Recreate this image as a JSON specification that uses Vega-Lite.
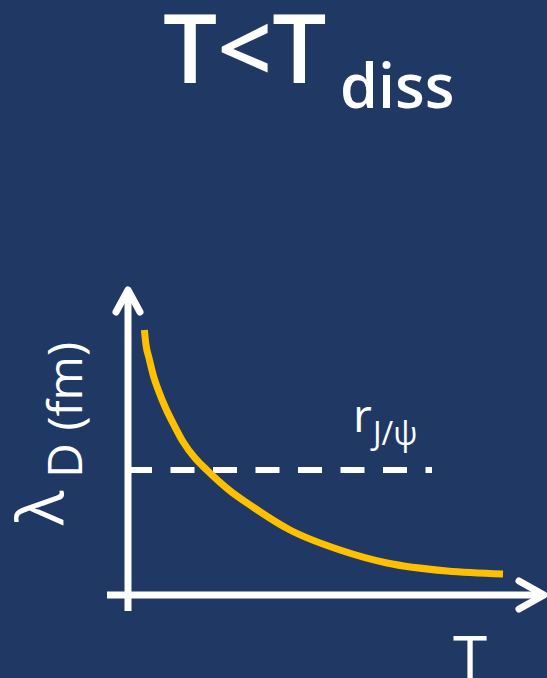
{
  "$schema": "https://vega.github.io/schema/vega-lite/v6.json",
  "width": 547,
  "height": 678,
  "autosize": {"type": "none"},
  "padding": 0,
  "background": "#203864",
  "config": {"view": {"stroke": null}},
  "datasets": {
    "curve": [
      {"T": 0.41, "L": 6.625},
      {"T": 0.45, "L": 6.25},
      {"T": 0.525, "L": 5.925},
      {"T": 0.63, "L": 5.5},
      {"T": 0.775, "L": 5.075},
      {"T": 0.94, "L": 4.675},
      {"T": 1.15, "L": 4.25},
      {"T": 1.38, "L": 3.825},
      {"T": 1.675, "L": 3.425},
      {"T": 1.97, "L": 3.125},
      {"T": 2.525, "L": 2.625},
      {"T": 3.125, "L": 2.2},
      {"T": 4.05, "L": 1.625},
      {"T": 5.3, "L": 1.125},
      {"T": 6.475, "L": 0.8},
      {"T": 7.975, "L": 0.6},
      {"T": 9.375, "L": 0.525}
    ],
    "axes": [
      {"axis": "lambda", "T": 0, "L": -0.4, "T2": 0, "L2": 7.5},
      {"axis": "T", "T": -0.525, "L": 0, "T2": 10.3, "L2": 0}
    ],
    "threshold": [
      {"T": 0, "L": 3.125, "T2": 7.6, "L2": 3.125}
    ],
    "arrows": [
      {"arrow": "lambda", "seq": 1, "T": -0.3, "L": 7.075},
      {"arrow": "lambda", "seq": 2, "T": 0, "L": 7.625},
      {"arrow": "lambda", "seq": 3, "T": 0.3, "L": 7.075},
      {"arrow": "T", "seq": 1, "T": 9.775, "L": 0.35},
      {"arrow": "T", "seq": 2, "T": 10.4, "L": 0},
      {"arrow": "T", "seq": 3, "T": 9.775, "L": -0.35}
    ],
    "labels": [
      {"name": "title", "T": 0.875, "L": 12.8, "text": "T<T"},
      {"name": "titleSub", "T": 5.3, "L": 12.175, "text": "diss"},
      {"name": "radius", "T": 5.625, "L": 4.075, "text": "r"},
      {"name": "radiusSub", "T": 6.125, "L": 3.75, "text": "J/ψ"},
      {"name": "yLambda", "T": -1.625, "L": 1.75, "text": "λ"},
      {"name": "yRest", "T": -1.15, "L": 2.925, "text": "D (fm)"},
      {"name": "xTitle", "T": 8.55, "L": -2.15, "text": "T"}
    ]
  },
  "encoding": {
    "x": {"field": "T", "type": "quantitative", "axis": null,
          "scale": {"domain": [-3.2, 10.475], "nice": false, "zero": false}},
    "y": {"field": "L", "type": "quantitative", "axis": null,
          "scale": {"domain": [-2.075, 14.875], "nice": false, "zero": false}}
  },
  "layer": [
    {
      "data": {"name": "threshold"},
      "mark": {"type": "rule", "color": "#ffffff", "strokeWidth": 6, "strokeDash": [24, 18.5]},
      "encoding": {"x2": {"field": "T2"}, "y2": {"field": "L2"}}
    },
    {
      "data": {"name": "curve"},
      "mark": {"type": "line", "color": "#ffc000", "strokeWidth": 7, "interpolate": "monotone", "strokeCap": "butt"},
      "encoding": {}
    },
    {
      "data": {"name": "axes"},
      "mark": {"type": "rule", "color": "#ffffff", "strokeWidth": 7, "strokeCap": "butt"},
      "encoding": {"x2": {"field": "T2"}, "y2": {"field": "L2"}}
    },
    {
      "data": {"name": "arrows"},
      "mark": {"type": "line", "color": "#ffffff", "strokeWidth": 7, "strokeCap": "round", "strokeJoin": "round"},
      "encoding": {
        "detail": {"field": "arrow"},
        "order": {"field": "seq", "type": "quantitative"}
      }
    },
    {
      "data": {"name": "labels"},
      "transform": [{"filter": "datum.name === 'title'"}],
      "mark": {"type": "text", "color": "#ffffff", "font": "Open Sans", "fontSize": 96, "fontWeight": 600, "align": "left", "baseline": "alphabetic"},
      "encoding": {"text": {"field": "text"}}
    },
    {
      "data": {"name": "labels"},
      "transform": [{"filter": "datum.name === 'titleSub'"}],
      "mark": {"type": "text", "color": "#ffffff", "font": "Open Sans", "fontSize": 61, "fontWeight": 600, "align": "left", "baseline": "alphabetic"},
      "encoding": {"text": {"field": "text"}}
    },
    {
      "data": {"name": "labels"},
      "transform": [{"filter": "datum.name === 'radius'"}],
      "mark": {"type": "text", "color": "#ffffff", "font": "Open Sans", "fontSize": 46, "align": "left", "baseline": "alphabetic"},
      "encoding": {"text": {"field": "text"}}
    },
    {
      "data": {"name": "labels"},
      "transform": [{"filter": "datum.name === 'radiusSub'"}],
      "mark": {"type": "text", "color": "#ffffff", "font": "Open Sans", "fontSize": 32, "align": "left", "baseline": "alphabetic"},
      "encoding": {"text": {"field": "text"}}
    },
    {
      "data": {"name": "labels"},
      "transform": [{"filter": "datum.name === 'yLambda'"}],
      "mark": {"type": "text", "color": "#ffffff", "font": "Open Sans", "fontSize": 64, "angle": 270, "align": "left", "baseline": "alphabetic"},
      "encoding": {"text": {"field": "text"}}
    },
    {
      "data": {"name": "labels"},
      "transform": [{"filter": "datum.name === 'yRest'"}],
      "mark": {"type": "text", "color": "#ffffff", "font": "Open Sans", "fontSize": 48, "angle": 270, "align": "left", "baseline": "alphabetic"},
      "encoding": {"text": {"field": "text"}}
    },
    {
      "data": {"name": "labels"},
      "transform": [{"filter": "datum.name === 'xTitle'"}],
      "mark": {"type": "text", "color": "#ffffff", "font": "Open Sans", "fontSize": 62, "align": "center", "baseline": "alphabetic"},
      "encoding": {"text": {"field": "text"}}
    }
  ]
}
